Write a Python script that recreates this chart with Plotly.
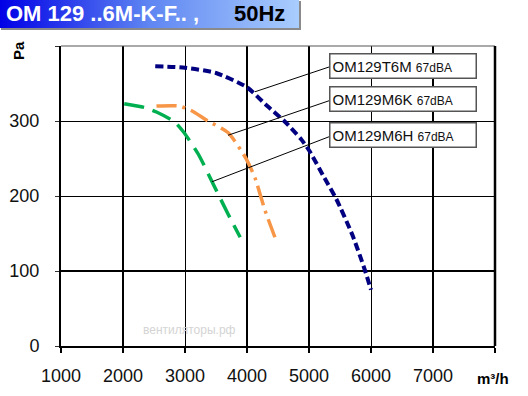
import base64
import plotly.graph_objects as go

# ---- data ----
t6m_flow = [2520, 3000, 3500, 4000, 4300, 4600, 4870, 5000, 5250, 5440, 5700, 5890, 6000]
t6m_pa = [373, 371, 364, 345, 322, 300, 276, 261, 224, 196, 148, 104, 75]

m6k_flow = [2540, 2900, 3100, 3350, 3700, 3970, 4050, 4130, 4290, 4450]
m6k_pa = [320, 320, 314, 301, 284, 252, 239, 224, 181, 145]

m6h_flow = [2020, 2350, 2540, 2830, 2980, 3220, 3460, 3700, 3890]
m6h_pa = [323, 318, 312, 299, 285, 255, 215, 175, 145]

series_names = ["OM129T6M", "OM129M6K", "OM129M6H"]
series_noise = ["67dBA", "67dBA", "67dBA"]
series_colors = ["#000080", "#F79646", "#00B050"]

# leader lines: (curve point) -> (label box)
leader_start_flow = [4129, 3694, 3435]
leader_start_pa = [339, 281, 219]
leader_end_flow = [5323, 5323, 5323]
leader_end_pa = [372, 327, 279]

x_ticks = [1000, 2000, 3000, 4000, 5000, 6000, 7000, 8000]
x_ticktext = ["1000", "2000", "3000", "4000", "5000", "6000", "7000", ""]
y_ticks = [0, 100, 200, 300, 400]
y_ticktext = ["0", "100", "200", "300", ""]
thick_x_grid = [2000, 4000, 5000, 7000]
thick_y_grid = [100]

# ---- geometry helpers (pixel -> paper) ----
L, R, T, B = 61, 495, 46, 346
def px(p):
    return (p - L) / (R - L)
def py(p):
    return (B - p) / (B - T)

FONT = "Liberation Sans, Arial, sans-serif"

fig = go.Figure()

curves = [(t6m_flow, t6m_pa, "8px,4px", 4),
          (m6k_flow, m6k_pa, "20px,6px,3px,6px", 3.5),
          (m6h_flow, m6h_pa, "20px,9px", 3.5)]
for (xs, ys, dash, w), name, col in zip(curves, series_names, series_colors):
    fig.add_trace(go.Scatter(x=xs, y=ys, mode="lines", name=name,
                             line=dict(color=col, width=w, dash=dash, shape="spline",
                                       smoothing=0.6),
                             hoverinfo="skip"))

for x0, y0, x1, y1 in zip(leader_start_flow, leader_start_pa, leader_end_flow, leader_end_pa):
    fig.add_trace(go.Scatter(x=[x0, x1], y=[y0, y1], mode="lines",
                             line=dict(color="black", width=1), hoverinfo="skip"))

shapes = []
for gx in thick_x_grid:
    shapes.append(dict(type="line", xref="x", yref="paper", x0=gx, x1=gx, y0=0, y1=1,
                       line=dict(color="black", width=2), layer="below"))
for gy in thick_y_grid:
    shapes.append(dict(type="line", xref="paper", yref="y", x0=0, x1=1, y0=gy, y1=gy,
                       line=dict(color="black", width=2), layer="below"))
# top border (thin) and right border (thick)
shapes.append(dict(type="line", xref="paper", yref="paper", x0=0, x1=1, y0=1, y1=1,
                   line=dict(color="#555555", width=1)))
shapes.append(dict(type="line", xref="paper", yref="paper", x0=1, x1=1, y0=0, y1=1,
                   line=dict(color="black", width=2.5)))
# banner shadow
shapes.append(dict(type="rect", xref="paper", yref="paper", x0=px(1), x1=px(301),
                   y0=py(30), y1=py(1), line=dict(width=0), fillcolor="#8a8a8a", layer="below"))

annotations = []
for name, noise, ypa in zip(series_names, series_noise, [374, 329, 281]):
    annotations.append(dict(
        x=5323, y=ypa, xref="x", yref="y", xanchor="left", yanchor="middle",
        text=f"{name} <span style='font-size:12px'>{noise}</span>",
        showarrow=False, align="left", width=141, height=19, borderpad=2,
        bordercolor="#555555", borderwidth=1.5, bgcolor="white",
        font=dict(family=FONT, size=15, color="#111111")))

annotations += [
    dict(x=px(4), y=py(14), xref="paper", yref="paper", xanchor="left", yanchor="middle",
         text="<b>OM 129 ..6M-K-F.. ,</b>", showarrow=False,
         font=dict(family=FONT, size=22, color="white")),
    dict(x=px(232), y=py(14), xref="paper", yref="paper", xanchor="left", yanchor="middle",
         text="<b>50Hz</b>", showarrow=False,
         font=dict(family=FONT, size=22, color="black")),
    dict(x=px(18), y=py(51), xref="paper", yref="paper", xanchor="center", yanchor="middle",
         text="<b>Pa</b>", textangle=-90, showarrow=False,
         font=dict(family=FONT, size=15, color="black")),
    dict(x=px(493), y=py(378), xref="paper", yref="paper", xanchor="center", yanchor="middle",
         text="<b>m³/h</b>", showarrow=False,
         font=dict(family=FONT, size=15, color="black")),
    dict(x=3080, y=21, xref="x", yref="y", xanchor="center", yanchor="middle",
         text="вентиляторы.рф", showarrow=False,
         font=dict(family=FONT, size=12, color="#d4d4d4")),
]

svg = ('<svg xmlns="http://www.w3.org/2000/svg" width="300" height="28">'
       '<defs><linearGradient id="g" x1="0" y1="0" x2="1" y2="0">'
       '<stop offset="0" stop-color="#0000e6"/><stop offset="0.5" stop-color="#5f86f2"/>'
       '<stop offset="1" stop-color="#a9cdfd"/></linearGradient></defs>'
       '<rect width="300" height="28" fill="url(#g)"/></svg>')
src = "data:image/svg+xml;base64," + base64.b64encode(svg.encode()).decode()

fig.update_layout(
    width=528, height=396, autosize=False,
    margin=dict(l=L, r=528 - R, t=T, b=396 - B),
    paper_bgcolor="white", plot_bgcolor="white",
    showlegend=False,
    shapes=shapes, annotations=annotations,
    images=[dict(source=src, xref="paper", yref="paper", x=px(0), y=py(0),
                 sizex=px(299) - px(0), sizey=py(0) - py(28),
                 xanchor="left", yanchor="top", sizing="stretch", layer="above")],
    xaxis=dict(range=[1000, 8000], tickvals=x_ticks, ticktext=x_ticktext,
               automargin=False,
               showgrid=True, gridcolor="black", gridwidth=1, zeroline=False,
               showline=True, linecolor="black", linewidth=2,
               ticks="outside", ticklen=5, tickcolor="black", tickwidth=2,
               ticklabelstandoff=7,
               tickfont=dict(family=FONT, size=18, color="#111111")),
    yaxis=dict(range=[0, 400], tickvals=y_ticks, ticktext=y_ticktext,
               automargin=False,
               showgrid=True, gridcolor="black", gridwidth=1, zeroline=False,
               showline=True, linecolor="black", linewidth=2,
               ticks="outside", ticklen=4, tickcolor="#333333", tickwidth=1,
               ticklabelstandoff=12,
               tickfont=dict(family=FONT, size=18, color="#111111")),
)

fig.write_html("out.html", config={"displayModeBar": False},
               post_script="document.body.style.margin='0';document.body.style.padding='0';")
